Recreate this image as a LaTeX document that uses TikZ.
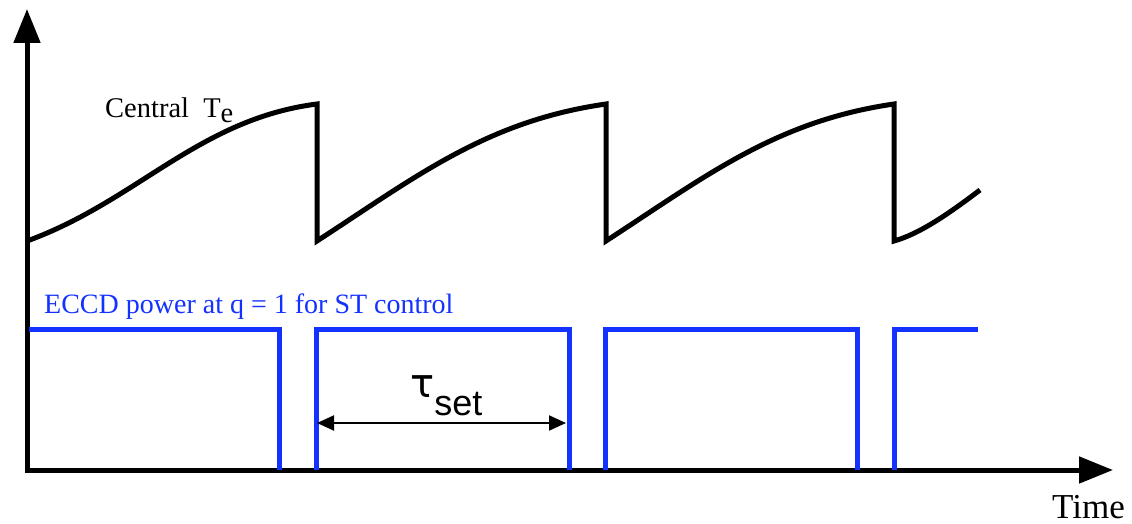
\documentclass[tikz,border=0pt]{standalone}
\usepackage{fontspec}
\setmainfont{Liberation Serif}
\newfontfamily\arialf{Liberation Sans}
\newfontfamily\dejaf{DejaVu Sans}
\usetikzlibrary{arrows.meta}
\definecolor{ecblue}{RGB}{20,50,255}
\begin{document}
\begin{tikzpicture}[x=1pt,y=-1pt,
  axis/.style={line width=5pt,{Triangle[length=34pt,width=26pt]}-{Triangle[length=34pt,width=26pt]}},
  te/.style={line width=5pt,black},
  pw/.style={line width=5pt,ecblue},
  dim/.style={line width=2pt,{Triangle[length=17pt,width=15pt]}-{Triangle[length=17pt,width=15pt]}},
  lbl/.style={anchor=base west,inner sep=0pt}]
\useasboundingbox (0,0) rectangle (1132,524);
% axes
\coordinate (ytip) at (27,9);
\coordinate (O) at (27,470);
\coordinate (xtip) at (1113,470);
\draw[axis] (ytip) -- (O) -- (xtip);
% central Te
\draw[te] (27,241) .. controls (137,201) and (199,119) .. (317,104) -- (317,241)
  .. controls (417,176) and (487,121) .. (606,104) -- (606,241)
  .. controls (706,176) and (776,121) .. (894,104) -- (894,241)
  .. controls (919,234) and (947,215) .. (980,190);
% ECCD power
\draw[pw] (29,329) -- (279,329) -- (279,470);
\draw[pw] (316,470) -- (316,329) -- (569,329) -- (569,470);
\draw[pw] (605,470) -- (605,329) -- (857,329) -- (857,470);
\draw[pw] (894,470) -- (894,329) -- (978,329);
% labels
\node[lbl,font=\fontsize{28.5}{31}\selectfont] (cte) at (105,118) {Central\ \ T\raisebox{-5pt}{e}};
\node[lbl,text=ecblue,font=\fontsize{28}{31}\selectfont] (eccd) at (44,313) {ECCD power at q = 1 for ST control};
\node[lbl,font=\fontsize{35}{38}\selectfont] (time) at (1052,518) {Time};
\node[lbl,font=\dejaf\fontsize{40}{44}\selectfont] (tau) at (410,397) {τ\raisebox{-18pt}{\arialf\fontsize{36}{40}\selectfont set}};
% tau_set dimension
\coordinate (a1) at (317,423);
\coordinate (a2) at (566,423);
\draw[dim] (a1) -- (a2);
\end{tikzpicture}
\end{document}
